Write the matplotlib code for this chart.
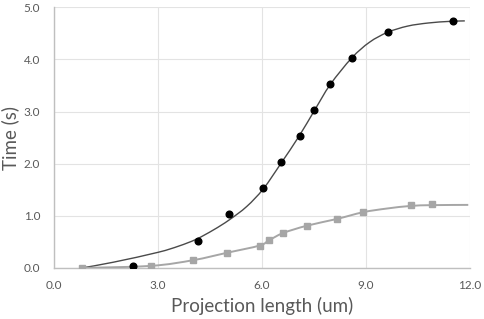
import numpy as np
import matplotlib
matplotlib.use("Agg")
import matplotlib.pyplot as plt
from matplotlib.path import Path
from matplotlib.patches import PathPatch

# Observed points
black_x = [2.27, 4.14, 5.05, 6.04, 6.54, 7.09, 7.50, 7.95, 8.59, 9.62, 11.52]
black_y = [0.03, 0.52, 1.03, 1.53, 2.03, 2.53, 3.03, 3.53, 4.03, 4.52, 4.73]
gray_x = [0.80, 2.80, 4.02, 4.98, 5.93, 6.20, 6.61, 7.29, 8.16, 8.92, 10.29, 10.90]
gray_y = [0.00, 0.03, 0.15, 0.29, 0.42, 0.54, 0.68, 0.81, 0.94, 1.07, 1.20, 1.23]

# Model curves
bcurve_x = [0.80, 1.71, 3.00, 3.60, 4.10, 4.60, 5.05, 5.56, 6.04, 6.54, 7.07, 7.52, 7.97, 8.59, 9.10, 9.62, 10.20, 10.80, 11.40, 11.85]
bcurve_y = [0.00, 0.11, 0.30, 0.42, 0.55, 0.73, 0.92, 1.18, 1.52, 2.00, 2.53, 3.03, 3.52, 4.03, 4.33, 4.52, 4.64, 4.70, 4.73, 4.74]
gcurve_x = [0.80, 2.80, 4.02, 4.98, 5.93, 6.20, 6.61, 7.29, 8.16, 8.92, 9.60, 10.29, 10.90, 11.95]
gcurve_y = [0.00, 0.04, 0.15, 0.29, 0.43, 0.53, 0.67, 0.81, 0.94, 1.07, 1.14, 1.19, 1.205, 1.21]

xticks = [0.0, 3.0, 6.0, 9.0, 12.0]
yticks = [0.0, 1.0, 2.0, 3.0, 4.0, 5.0]

plt.rcParams['font.family'] = ['Lato', 'DejaVu Sans']

fig = plt.figure(figsize=(4.84, 3.19), dpi=100)
ax = fig.add_axes([0.1116, 0.160, 0.8595, 0.817])


def smooth_path(xs, ys, t=0.5):
    pts = np.column_stack([xs, ys])
    verts = [pts[0]]
    codes = [Path.MOVETO]
    n = len(pts)
    for i in range(n - 1):
        p0 = pts[i - 1] if i > 0 else pts[i]
        p1 = pts[i]
        p2 = pts[i + 1]
        p3 = pts[i + 2] if i + 2 < n else pts[i + 1]
        c1 = p1 + (p2 - p0) * t / 6
        c2 = p2 - (p3 - p1) * t / 6
        verts += [c1, c2, p2]
        codes += [Path.CURVE4] * 3
    return Path(verts, codes)


ax.add_patch(PathPatch(smooth_path(bcurve_x, bcurve_y, 1.0), fill=False,
                       edgecolor='#4a4a4a', lw=1.0, zorder=3))
ax.add_patch(PathPatch(smooth_path(gcurve_x, gcurve_y, 1.0), fill=False,
                       edgecolor='#a6a6a6', lw=1.4, zorder=3))

ax.plot(black_x, black_y, 'o', color='black', markersize=4.8, zorder=4, linestyle='none')
ax.plot(gray_x, gray_y, 's', color='#a6a6a6', markersize=5.0, zorder=4, linestyle='none')

ax.set_xlim(0, 12)
ax.set_ylim(0, 5)
ax.set_xticks(xticks)
ax.set_yticks(yticks)
ax.set_xticklabels([f"{v:.1f}" for v in xticks])
ax.set_yticklabels([f"{v:.1f}" for v in yticks])
ax.tick_params(length=0, labelsize=8.5, labelcolor='#595959', pad=10)
ax.tick_params(axis='x', pad=9)
ax.grid(True, color='#e3e3e3', lw=0.8, zorder=0)
ax.set_axisbelow(True)
for s in ['top', 'right']:
    ax.spines[s].set_visible(False)
for s in ['left', 'bottom']:
    ax.spines[s].set_color('#bfbfbf')
    ax.spines[s].set_linewidth(1.0)

ax.set_xlabel('Projection length (um)', fontsize=13.5, color='#595959', labelpad=4)
ax.set_ylabel('Time (s)', fontsize=13.5, color='#595959', labelpad=3)

fig.savefig('out.png', dpi=100)
